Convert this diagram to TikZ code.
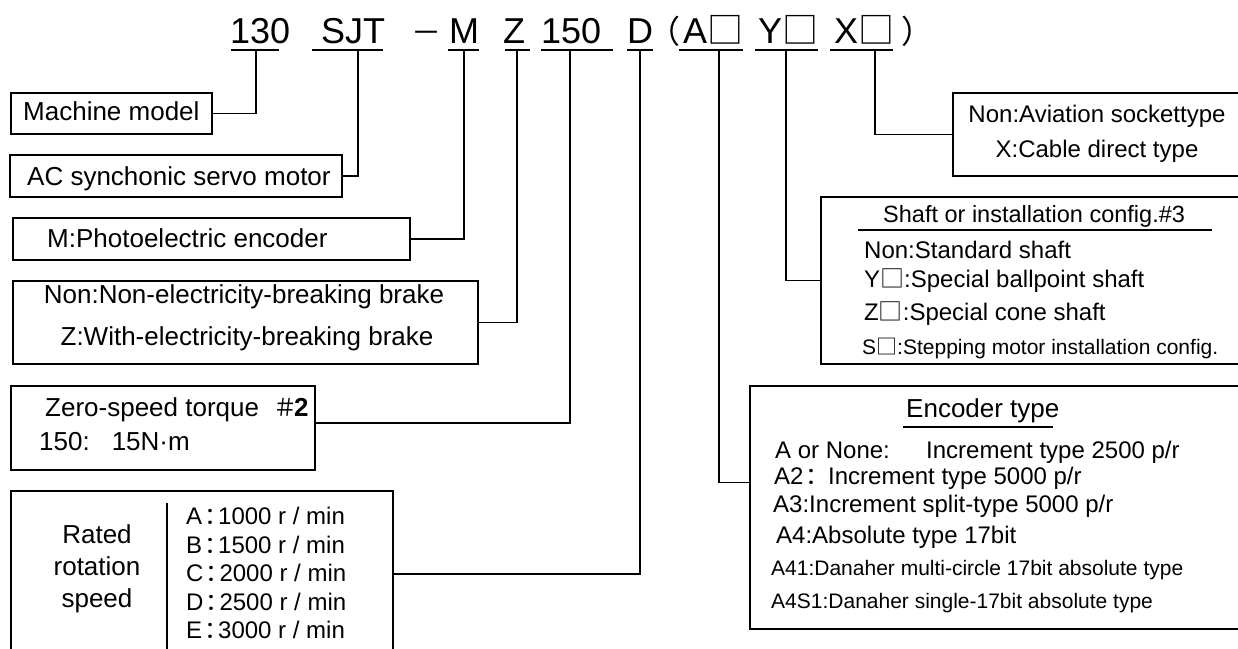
\documentclass[tikz,border=0pt]{standalone}
\usepackage{fontspec}
\setmainfont{Liberation Sans}
\newfontfamily\cjk{Noto Sans CJK SC}
\newcommand\fsz[1]{\fontsize{#1}{#1}\selectfont}
\newcommand\sqr{{\cjk □}}
\newcommand\fcolon{\makebox[16pt][l]{\hspace{2pt}\makebox[6pt][l]{\cjk ：}}}
\begin{document}
\begin{tikzpicture}[x=1pt,y=-1pt,
  box/.style={draw, line width=1.6pt, inner sep=0pt, anchor=north west},
  conn/.style={draw, line width=1.6pt},
  uline/.style={line width=2pt},
  txt/.style={inner sep=0pt, anchor=base west},
  ctxt/.style={inner sep=0pt, anchor=base},
  ttl/.style={txt, font=\fsz{36}},
  lft/.style={font=\fsz{26}},
  rgt/.style={font=\fsz{24}},
  sml/.style={font=\fsz{21}}]
\clip (0,0) rectangle (1238,648);
\fill[white] (0,0) rectangle (1238,648);

% ---- title ----
\node[ttl] (t130) at (230,43) {130};
\node[ttl] (tSJT) at (321,43) {SJT};
\node[inner sep=0pt, anchor=base, font=\fsz{30}] (tdash) at (426,43) {\cjk －};
\node[ttl] (tM) at (449,43) {M};
\node[ttl] (tZ) at (503,43) {Z};
\node[ttl] (t150) at (541,43) {150};
\node[ttl] (tD) at (627,43) {D};
\node[inner sep=0pt, anchor=base east, font=\fsz{32}] (tlp) at (681,43) {\cjk （};
\node[ttl] (tA) at (683,43) {A\sqr};
\node[ttl] (tY) at (758,43) {Y\sqr};
\node[ttl] (tX) at (834,43) {X\sqr};
\node[inner sep=0pt, anchor=base west, font=\fsz{32}] (trp) at (901,43) {\cjk ）};

\draw[uline] (231,50) -- (279,50);
\draw[uline] (312,50) -- (383,50);
\draw[uline] (448,50) -- (479,50);
\draw[uline] (505,50) -- (530,50);
\draw[uline] (541,50) -- (613,50);
\draw[uline] (627,50) -- (653,50);
\draw[uline] (679,50) -- (743,50);
\draw[uline] (755,50) -- (818,50);
\draw[uline] (830,50) -- (893,50);

\coordinate (c130) at (256,50);
\coordinate (cSJT) at (358,50);
\coordinate (cM) at (464,50);
\coordinate (cZ) at (517,50);
\coordinate (c150) at (570,50);
\coordinate (cD) at (640,50);
\coordinate (cA) at (719,50);
\coordinate (cY) at (786,50);
\coordinate (cX) at (875,50);

% ---- boxes ----
\node[box, minimum width=201pt, minimum height=41pt] (b1) at (10,92) {};
\node[box, minimum width=332pt, minimum height=42pt] (b2) at (9,154) {};
\node[box, minimum width=397pt, minimum height=42pt] (b3) at (12,217) {};
\node[box, minimum width=465pt, minimum height=83pt] (b4) at (12,280) {};
\node[box, minimum width=304pt, minimum height=84pt] (b5) at (10,385) {};
\node[box, minimum width=382pt, minimum height=166pt] (b6) at (10,490) {};
\node[box, minimum width=310pt, minimum height=83pt] (b7) at (952,92) {};
\node[box, minimum width=440pt, minimum height=167pt] (b8) at (820,196) {};
\node[box, minimum width=510pt, minimum height=243pt] (b9) at (749,385) {};

% ---- connectors ----
\draw[conn] (b1.east) -| (c130);
\draw[conn] (b2.east) -| (cSJT);
\draw[conn] (b3.east) -| (cM);
\draw[conn] (b4.east) -| (cZ);
\draw[conn] ([yshift=5pt]b5.east) -| (c150);
\draw[conn] (b6.east) -| (cD);
\draw[conn] (cA) |- ([yshift=25pt]b9.west);
\draw[conn] (cY) |- (b8.west);
\draw[conn] (cX) |- (b7.west);

% ---- left texts ----
\node[txt, lft] (l1) at (23,120) {Machine model};
\node[txt, lft] (l2) at (27,185) {AC synchonic servo motor};
\node[txt, lft] (l3) at (47,247) {M:Photoelectric encoder};
\node[ctxt, lft] (l4a) at (244,303) {Non:Non-electricity-breaking brake};
\node[ctxt, lft] (l4b) at (247,345) {Z:With-electricity-breaking brake};
\node[txt, lft] (l5a) at (45,416) {Zero-speed torque};
\node[txt, lft] (l5b) at (277,416) {\makebox[17pt][c]{\fsz{24}\cjk ＃}\textbf{2}};
\node[txt, lft] (l5c) at (39,450) {150:\hspace*{22pt}15N·m};
\node[ctxt, lft] (l6a) at (97,543) {Rated};
\node[ctxt, lft] (l6b) at (97,575) {rotation};
\node[ctxt, lft] (l6c) at (97,607) {speed};
\draw[conn] (167,503) -- (167,650);
\node[txt, rgt] (s1) at (186,524) {A\fcolon 1000 r / min};
\node[txt, rgt] (s2) at (186,553) {B\fcolon 1500 r / min};
\node[txt, rgt] (s3) at (186,581) {C\fcolon 2000 r / min};
\node[txt, rgt] (s4) at (186,610) {D\fcolon 2500 r / min};
\node[txt, rgt] (s5) at (186,638) {E\fcolon 3000 r / min};

% ---- right texts ----
\node[ctxt, rgt] (r1a) at (1097,122) {Non:Aviation sockettype};
\node[ctxt, rgt] (r1b) at (1097,157) {X:Cable direct type};

\node[txt, font=\fsz{23.5}] (r2t) at (883,222) {Shaft or installation config.\#3};
\draw[conn] (858,230) -- (1212,230);
\node[txt, rgt] (r2a) at (864,258) {Non:Standard shaft};
\node[txt, rgt] (r2b) at (864,287) {Y\sqr:Special ballpoint shaft};
\node[txt, rgt] (r2c) at (864,320) {Z\sqr:Special cone shaft};
\node[txt, sml] (r2d) at (862,354) {S\sqr:Stepping motor installation config.};

\node[txt, font=\fsz{26}] (r3t) at (906,417) {Encoder type};
\draw[conn] (903,427) -- (1053,427);
\node[txt, rgt] (r3a) at (775,458) {A or None:};
\node[txt, rgt] (r3a2) at (926,458) {Increment type 2500 p/r};
\node[txt, rgt] (r3b) at (774,484) {A2\fcolon};
\node[txt, rgt] (r3b2) at (828,484) {Increment type 5000 p/r};
\node[txt, rgt] (r3c) at (773,512) {A3:Increment split-type 5000 p/r};
\node[txt, rgt] (r3d) at (776,543) {A4:Absolute type 17bit};
\node[txt, sml] (r3e) at (771,575) {A41:Danaher multi-circle 17bit absolute type};
\node[txt, sml] (r3f) at (771,608) {A4S1:Danaher single-17bit absolute type};
\end{tikzpicture}
\end{document}
